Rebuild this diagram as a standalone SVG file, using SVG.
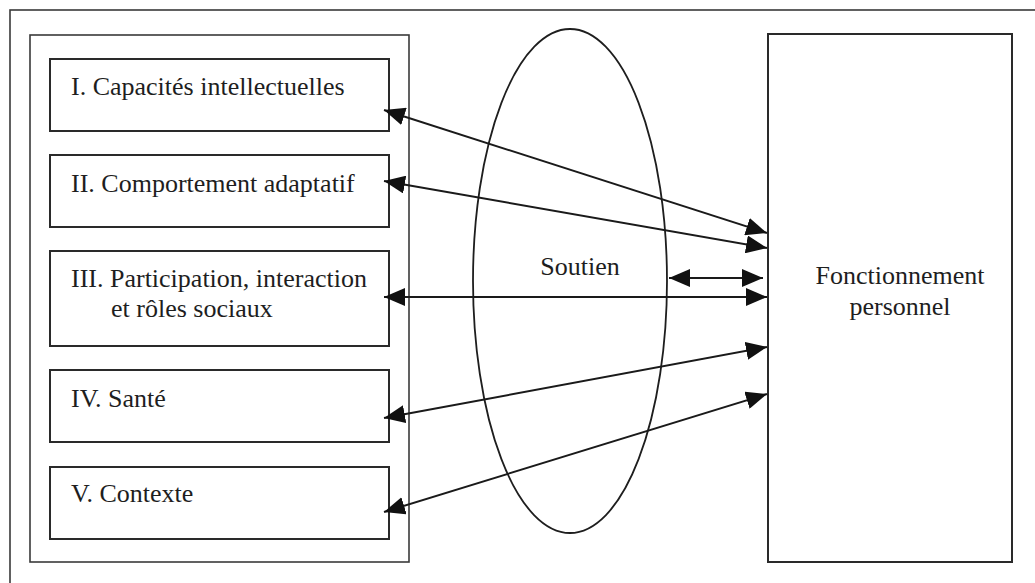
<svg xmlns="http://www.w3.org/2000/svg" width="1035" height="583" viewBox="0 0 1035 583">
<style>
  .box { fill: #fff; stroke: #2a2a2a; stroke-width: 2; }
  .frame { fill: none; stroke: #3a3a3a; stroke-width: 1.6; }
  .lbl { font-family: "Liberation Serif", "Times New Roman", serif; font-size: 26px; fill: #1e1e1e; }
  .conn { stroke: #1a1a1a; stroke-width: 2; fill: none; marker-start: url(#ah); marker-end: url(#ah); }
</style>
<defs>
  <marker id="ah" viewBox="0 0 21 18" markerWidth="21" markerHeight="18" refX="21" refY="9" markerUnits="userSpaceOnUse" orient="auto-start-reverse">
    <path d="M0,0 L21,9 L0,18 z" fill="#111"/>
  </marker>
</defs>
<rect width="1035" height="583" fill="#fff"/>
<g id="outer-frame">
  <rect class="frame" x="10" y="10" width="1045" height="600"/>
</g>
<g id="left-container">
  <rect class="frame" x="30" y="35" width="379" height="527"/>
</g>
<g id="ellipse-soutien">
  <ellipse cx="570" cy="281" rx="97" ry="252" fill="none" stroke="#1e1e1e" stroke-width="1.8"/>
  <text class="lbl" x="580" y="275" text-anchor="middle">Soutien</text>
</g>
<g id="node-1">
  <rect class="box" x="50" y="59" width="339" height="72"/>
  <text class="lbl" x="71" y="95">I. Capacités intellectuelles</text>
</g>
<g id="node-2">
  <rect class="box" x="50" y="155" width="339" height="72"/>
  <text class="lbl" x="71" y="192">II. Comportement adaptatif</text>
</g>
<g id="node-3">
  <rect class="box" x="50" y="251" width="339" height="95"/>
  <text class="lbl" x="71" y="287">III. Participation, interaction</text>
  <text class="lbl" x="111" y="317">et rôles sociaux</text>
</g>
<g id="node-4">
  <rect class="box" x="50" y="370" width="339" height="72"/>
  <text class="lbl" x="71" y="407">IV. Santé</text>
</g>
<g id="node-5">
  <rect class="box" x="50" y="467" width="339" height="72"/>
  <text class="lbl" x="71" y="502">V. Contexte</text>
</g>
<g id="node-fonctionnement">
  <rect class="box" x="768" y="34" width="244" height="528"/>
  <text class="lbl" x="900" y="284" text-anchor="middle">Fonctionnement</text>
  <text class="lbl" x="900" y="315" text-anchor="middle">personnel</text>
</g>
<g id="connectors">
  <line class="conn" x1="384" y1="110" x2="767" y2="233"/>
  <line class="conn" x1="384" y1="181" x2="767" y2="248"/>
  <line class="conn" x1="384" y1="297" x2="767" y2="297"/>
  <line class="conn" x1="669" y1="278" x2="763" y2="278"/>
  <line class="conn" x1="384" y1="418" x2="767" y2="347"/>
  <line class="conn" x1="384" y1="512" x2="767" y2="394"/>
</g>
</svg>
